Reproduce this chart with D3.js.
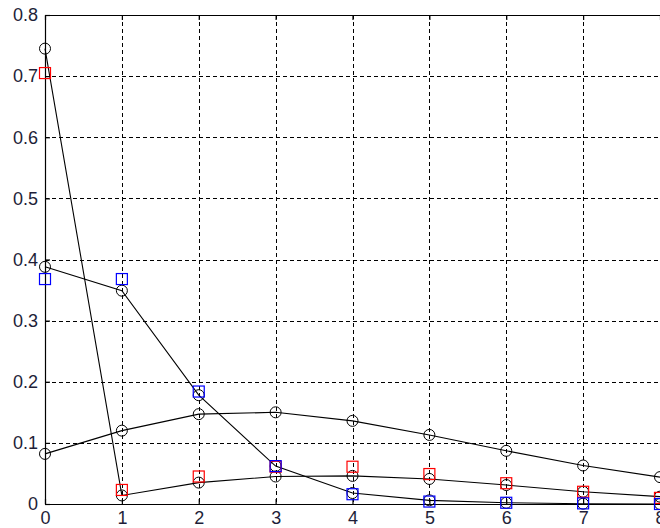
<!DOCTYPE html>
<html>
<head>
<meta charset="utf-8">
<script src="https://cdn.jsdelivr.net/npm/d3@7"></script>
<style>
  html, body { margin: 0; padding: 0; background: #fff; }
  svg { display: block; }
</style>
</head>
<body>
<div id="chart"></div>
<script>
// ---- data ----
const xValues = [0, 1, 2, 3, 4, 5, 6, 7, 8];
const circlesZeroInflated = [0.745, 0.014, 0.035, 0.045, 0.046, 0.041, 0.031, 0.020, 0.012];
const circlesLow = [0.388, 0.349, 0.178, 0.062, 0.018, 0.006, 0.002, 0.0005, 0.0];
const circlesWide = [0.082, 0.120, 0.147, 0.150, 0.136, 0.113, 0.087, 0.063, 0.044];
const redSquares = [0.705, 0.023, 0.045, 0.061, 0.061, 0.049, 0.034, 0.020, 0.010];
const blueSquares = [0.368, 0.368, 0.184, 0.062, 0.016, 0.004, 0.002, 0.001, 0.0];
const xTicks = [0, 1, 2, 3, 4, 5, 6, 7, 8];
const yTicks = [0, 0.1, 0.2, 0.3, 0.4, 0.5, 0.6, 0.7, 0.8];

const W = 660, H = 528;
const svg = d3.select("#chart").append("svg").attr("width", W).attr("height", H);

const x = d3.scaleLinear().domain([0, 8]).range([45, 660]);
const y = d3.scaleLinear().domain([0, 0.8]).range([504, 15]);

// grid
const grid = svg.append("g").attr("stroke", "#000").attr("stroke-width", 1)
  .attr("stroke-dasharray", "4,3").attr("shape-rendering", "crispEdges");
grid.selectAll("line.v").data(xTicks.filter(d => d > 0)).join("line")
  .attr("x1", d => Math.round(x(d)) + 0.5).attr("x2", d => Math.round(x(d)) + 0.5)
  .attr("y1", y(0.8)).attr("y2", y(0));
grid.selectAll("line.h").data(yTicks.filter(d => d > 0 && d < 0.8)).join("line")
  .attr("class", "h")
  .attr("x1", x(0)).attr("x2", W)
  .attr("y1", d => Math.round(y(d)) + 0.5).attr("y2", d => Math.round(y(d)) + 0.5);

// axes
const font = "'Liberation Sans', Arial, sans-serif";
const xAxis = d3.axisBottom(x).tickValues(xTicks).tickFormat(d3.format("d")).tickSizeInner(-5).tickSizeOuter(0);
const yAxis = d3.axisLeft(y).tickValues(yTicks).tickFormat(d => d === 0 ? "0" : d3.format(".1f")(d)).tickSizeInner(-5).tickSizeOuter(0).tickPadding(7);
const gx = svg.append("g").attr("transform", `translate(0,${y(0)})`).call(xAxis);
const gy = svg.append("g").attr("transform", `translate(${x(0)},0)`).call(yAxis);
const xTop = d3.axisTop(x).tickValues(xTicks).tickFormat("").tickSizeInner(-5).tickSizeOuter(0);
svg.append("g").attr("transform", `translate(0,${y(0.8)})`).call(xTop);
[gx, gy].forEach(g => {
  g.selectAll("text").attr("font-family", font).attr("font-size", 18).attr("fill", "#1e1e38");
});
svg.selectAll(".domain, .tick line").attr("stroke", "#000").attr("stroke-width", 1.2);
gx.selectAll(".tick text").attr("y", 20).attr("dy", "0");

// lines
const line = d3.line().x((d, i) => x(xValues[i])).y(d => y(d));
const lineSeries = [circlesZeroInflated, circlesLow, circlesWide];
svg.append("g").selectAll("path").data(lineSeries).join("path")
  .attr("d", d => line(d)).attr("fill", "none").attr("stroke", "#000").attr("stroke-width", 1.1);

// circles
lineSeries.forEach(s => {
  svg.append("g").selectAll("circle").data(s).join("circle")
    .attr("cx", (d, i) => x(xValues[i])).attr("cy", d => y(d)).attr("r", 5.5)
    .attr("fill", "none").attr("stroke", "#000").attr("stroke-width", 1);
});

// squares
const sq = 11;
[[redSquares, "#ff0000"], [blueSquares, "#0000ff"]].forEach(([s, c]) => {
  svg.append("g").selectAll("rect").data(s).join("rect")
    .attr("x", (d, i) => x(xValues[i]) - sq / 2).attr("y", d => y(d) - sq / 2)
    .attr("width", sq).attr("height", sq)
    .attr("fill", "none").attr("stroke", c).attr("stroke-width", 1.2);
});
</script>
</body>
</html>
